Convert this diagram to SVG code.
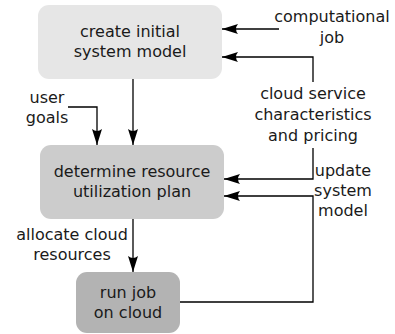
<svg xmlns="http://www.w3.org/2000/svg" width="395" height="334" viewBox="0 0 395 334">
<defs>
<style>
text{font-family:"DejaVu Sans",sans-serif;font-size:16px;fill:#1a1a1a;text-anchor:middle}
.box{stroke:none}
.c{fill:none;stroke:#000;stroke-width:1.3}
</style>
<marker id="ah" markerUnits="userSpaceOnUse" markerWidth="20" markerHeight="12" refX="16" refY="5" orient="auto" viewBox="0 0 20 10">
<path d="M16,5 L0,0 Q4,5 0,10 Z" fill="#000"/>
</marker>
</defs>
<rect width="395" height="334" fill="#fff"/>
<g id="connectors">
<path class="c" d="M279,29 H222" marker-end="url(#ah)"/>
<path class="c" d="M313,82 V57 H222" marker-end="url(#ah)"/>
<path class="c" d="M133,79 V145" marker-end="url(#ah)"/>
<path class="c" d="M68,107 H97 V145" marker-end="url(#ah)"/>
<path class="c" d="M313,148 V179 H224" marker-end="url(#ah)"/>
<path class="c" d="M180,302 H313 V196 H224" marker-end="url(#ah)"/>
<path class="c" d="M133,219 V272" marker-end="url(#ah)"/>
<text x="332" y="22">computational</text>
<text x="332" y="43">job</text>
<text x="313" y="99">cloud service</text>
<text x="313" y="120">characteristics</text>
<text x="313" y="141">and pricing</text>
<text x="47" y="103">user</text>
<text x="47" y="123">goals</text>
<text x="343" y="176">update</text>
<text x="343" y="196">system</text>
<text x="343" y="216">model</text>
<text x="72" y="240">allocate cloud</text>
<text x="72" y="260">resources</text>
</g>
<g id="create">
<rect class="box" x="38" y="5" width="184" height="74" rx="11" fill="#e6e6e6"/>
<text x="130" y="37">create initial</text>
<text x="130" y="57">system model</text>
</g>
<g id="determine">
<rect class="box" x="40" y="145" width="184" height="74" rx="11" fill="#cccccc"/>
<text x="132" y="177">determine resource</text>
<text x="132" y="197">utilization plan</text>
</g>
<g id="run">
<rect class="box" x="76" y="272" width="104" height="61" rx="11" fill="#b3b3b3"/>
<text x="128" y="298">run job</text>
<text x="128" y="318">on cloud</text>
</g>
</svg>
